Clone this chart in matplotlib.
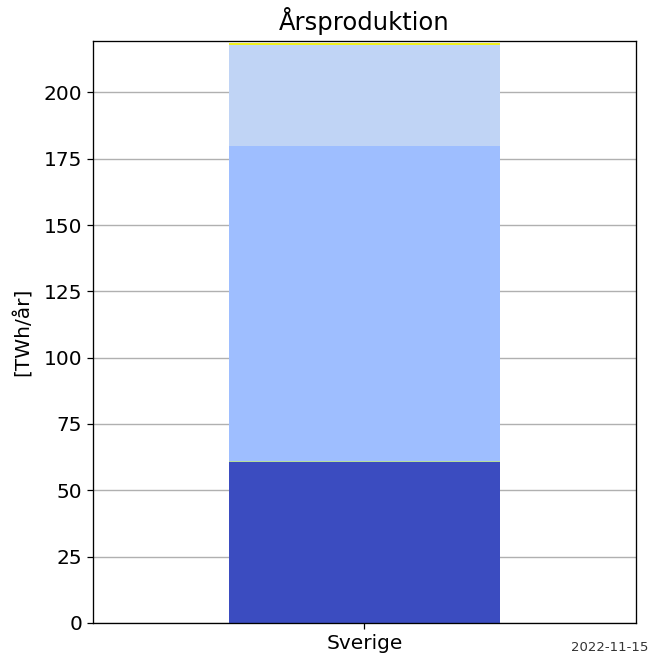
import matplotlib
matplotlib.use("Agg")
import matplotlib.pyplot as plt

# Årsproduktion per kraftslag, Sverige [TWh/år]
region = ["Sverige"]
segment_values = [60.5, 0.6, 118.7, 38.2, 0.8]
segment_colors = ["#3b4cc0", "#b5dd9a", "#9ebeff", "#c0d4f5", "#f0f020"]
date_text = "2022-11-15"

fig, ax = plt.subplots(figsize=(6.5, 6.55), dpi=100)
fig.subplots_adjust(left=0.143, right=0.978, top=0.937, bottom=0.049)

bottom = 0
for val, col in zip(segment_values, segment_colors):
    ax.bar(region, [val], bottom=bottom, width=0.5, color=col, zorder=2)
    bottom += val

ax.set_xlim(-0.5, 0.5)
ax.set_ylim(0, bottom + 0.5)
ax.set_yticks(range(0, 201, 25))
ax.yaxis.grid(True, color="#b0b0b0", linewidth=1.0, zorder=0)
ax.set_axisbelow(True)
ax.tick_params(labelsize=14.5, length=4.2, width=0.9)
for s in ax.spines.values():
    s.set_linewidth(0.95)
ax.set_ylabel("[TWh/år]", fontsize=14.5, labelpad=8)
ax.set_title("Årsproduktion", fontsize=17.5, pad=8)
fig.text(0.997, 0.002, date_text, ha="right", va="bottom", fontsize=9.5, color="#333333")

fig.savefig("out.png", dpi=100)
